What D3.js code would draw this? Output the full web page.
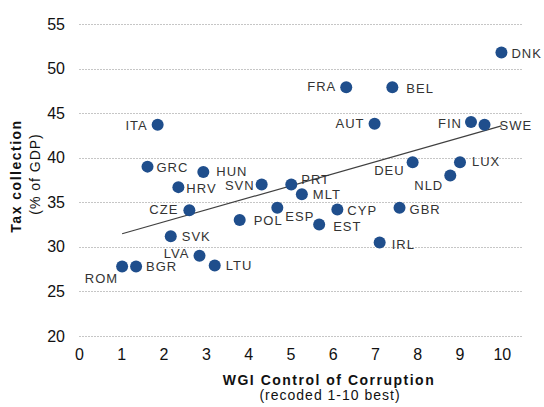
<!DOCTYPE html>
<html lang="en">
<head>
<meta charset="UTF-8">
<title>Tax collection vs control of corruption</title>
<script src="https://d3js.org/d3.v7.min.js"></script>
<style>
    body { margin: 0; background: #fff; }
    svg { font-family: "Liberation Sans", Arial, sans-serif; }
    .grid line { stroke: #c6c6c6; stroke-dasharray: 2,1; }
    .tick-label { font-size: 16px; fill: #111; }
    .pt-label { font-size: 13px; fill: #333; letter-spacing: 1px; }
    .title { font-size: 14px; fill: #111; }
</style>
</head>
<body>
<svg id="chart" width="544" height="407"></svg>
<script>
    // data
    const countries = ["ITA", "GRC", "HUN", "HRV", "SVN", "DNK", "FRA", "BEL", "AUT", "FIN",
        "SWE", "DEU", "LUX", "NLD", "PRT", "MLT", "CZE", "SVK", "POL", "LVA",
        "LTU", "ROM", "BGR", "ESP", "CYP", "GBR", "EST", "IRL"];
    const corruption = [1.86, 1.62, 2.94, 2.35, 4.32, 9.99, 6.32, 7.41, 6.99, 9.27,
        9.59, 7.89, 9.01, 8.78, 5.02, 5.27, 2.61, 2.17, 3.80, 2.85,
        3.21, 1.02, 1.35, 4.69, 6.11, 7.58, 5.68, 7.11];
    const taxCollection = [43.7, 39.0, 38.4, 36.7, 37.0, 51.8, 47.9, 47.9, 43.8, 44.0,
        43.7, 39.5, 39.5, 38.0, 37.0, 35.9, 34.1, 31.2, 33.0, 29.0,
        27.9, 27.8, 27.8, 34.4, 34.2, 34.4, 32.5, 30.5];
    const xTicks = [0, 1, 2, 3, 4, 5, 6, 7, 8, 9, 10];
    const yTicks = [20, 25, 30, 35, 40, 45, 50, 55];

    // label placement next to each dot: [dx, dy, anchor]
    const labelPos = {
        ITA: [-10, 5, "end"], GRC: [9, 5, "start"], HUN: [13, 4, "start"], HRV: [8, 6, "start"],
        SVN: [-7, 6, "end"], DNK: [10, 5, "start"], FRA: [-10, 4, "end"], BEL: [14, 6, "start"],
        AUT: [-10, 4, "end"], FIN: [-9, 6, "end"], SWE: [15, 5, "start"], DEU: [-8, 13, "end"],
        LUX: [12, 4, "start"], NLD: [-7, 14, "end"], PRT: [10, 0, "start"], MLT: [11, 5, "start"],
        CZE: [-11, 4, "end"], SVK: [11, 5, "start"], POL: [14, 5, "start"], LVA: [-10, 2, "end"],
        LTU: [11, 4, "start"], ROM: [-4, 17, "end"], BGR: [10, 5, "start"], ESP: [8, 13, "start"],
        CYP: [10, 6, "start"], GBR: [10, 6, "start"], EST: [14, 6, "start"], IRL: [12, 7, "start"]
    };

    const points = countries.map((c, i) => ({ name: c, x: corruption[i], y: taxCollection[i] }));

    const svg = d3.select("#chart");
    const x = d3.scaleLinear().domain([0, 10.5]).range([79, 523]);
    const y = d3.scaleLinear().domain([20, 55]).range([336, 24]);

    // horizontal gridlines
    svg.append("g").attr("class", "grid")
        .selectAll("line").data(yTicks).enter().append("line")
        .attr("x1", x(0)).attr("x2", x(10.5))
        .attr("y1", d => Math.round(y(d)) + 0.5).attr("y2", d => Math.round(y(d)) + 0.5);

    // axes with hidden lines, just tick labels
    const yAxis = svg.append("g").attr("transform", `translate(${x(0)},0)`)
        .call(d3.axisLeft(y).tickValues(yTicks).tickSize(0).tickPadding(14));
    const xAxis = svg.append("g").attr("transform", `translate(0,${y(20)})`)
        .call(d3.axisBottom(x).tickValues(xTicks).tickSize(0).tickPadding(13));
    [yAxis, xAxis].forEach(a => {
        a.select(".domain").remove();
        a.selectAll("text").attr("class", "tick-label").attr("font-family", null).attr("font-size", null).attr("fill", null);
    });

    // linear trend line (least squares)
    const mx = d3.mean(points, d => d.x), my = d3.mean(points, d => d.y);
    const slope = d3.sum(points, d => (d.x - mx) * (d.y - my)) / d3.sum(points, d => (d.x - mx) ** 2);
    const xr = d3.extent(points, d => d.x);
    svg.append("path")
        .attr("d", d3.line()(xr.map(v => [x(v), y(my + slope * (v - mx))])))
        .attr("stroke", "#404040").attr("stroke-width", 1.2).attr("fill", "none");

    // dots
    svg.append("g").selectAll("circle").data(points).enter().append("circle")
        .attr("cx", d => x(d.x)).attr("cy", d => y(d.y)).attr("r", 6)
        .attr("fill", "#1f4e8c");

    // country labels
    svg.append("g").selectAll("text").data(points).enter().append("text")
        .attr("class", "pt-label")
        .attr("x", d => x(d.x) + labelPos[d.name][0])
        .attr("y", d => y(d.y) + labelPos[d.name][1])
        .attr("text-anchor", d => labelPos[d.name][2])
        .text(d => d.name);

    // axis titles
    svg.append("text").attr("class", "title").attr("x", 329).attr("y", 385)
        .attr("text-anchor", "middle").attr("font-weight", "bold").attr("letter-spacing", 1.5)
        .text("WGI Control of Corruption");
    svg.append("text").attr("class", "title").attr("x", 330).attr("y", 400)
        .attr("text-anchor", "middle").attr("font-size", 13.5).attr("letter-spacing", 1)
        .text("(recoded 1-10 best)");
    svg.append("text").attr("class", "title")
        .attr("transform", "translate(21,176) rotate(-90)")
        .attr("text-anchor", "middle").attr("font-weight", "bold").attr("letter-spacing", 1.5)
        .text("Tax collection");
    svg.append("text").attr("class", "title")
        .attr("transform", "translate(40,174) rotate(-90)")
        .attr("text-anchor", "middle").attr("letter-spacing", 1)
        .text("(% of GDP)");
</script>
</body>
</html>
